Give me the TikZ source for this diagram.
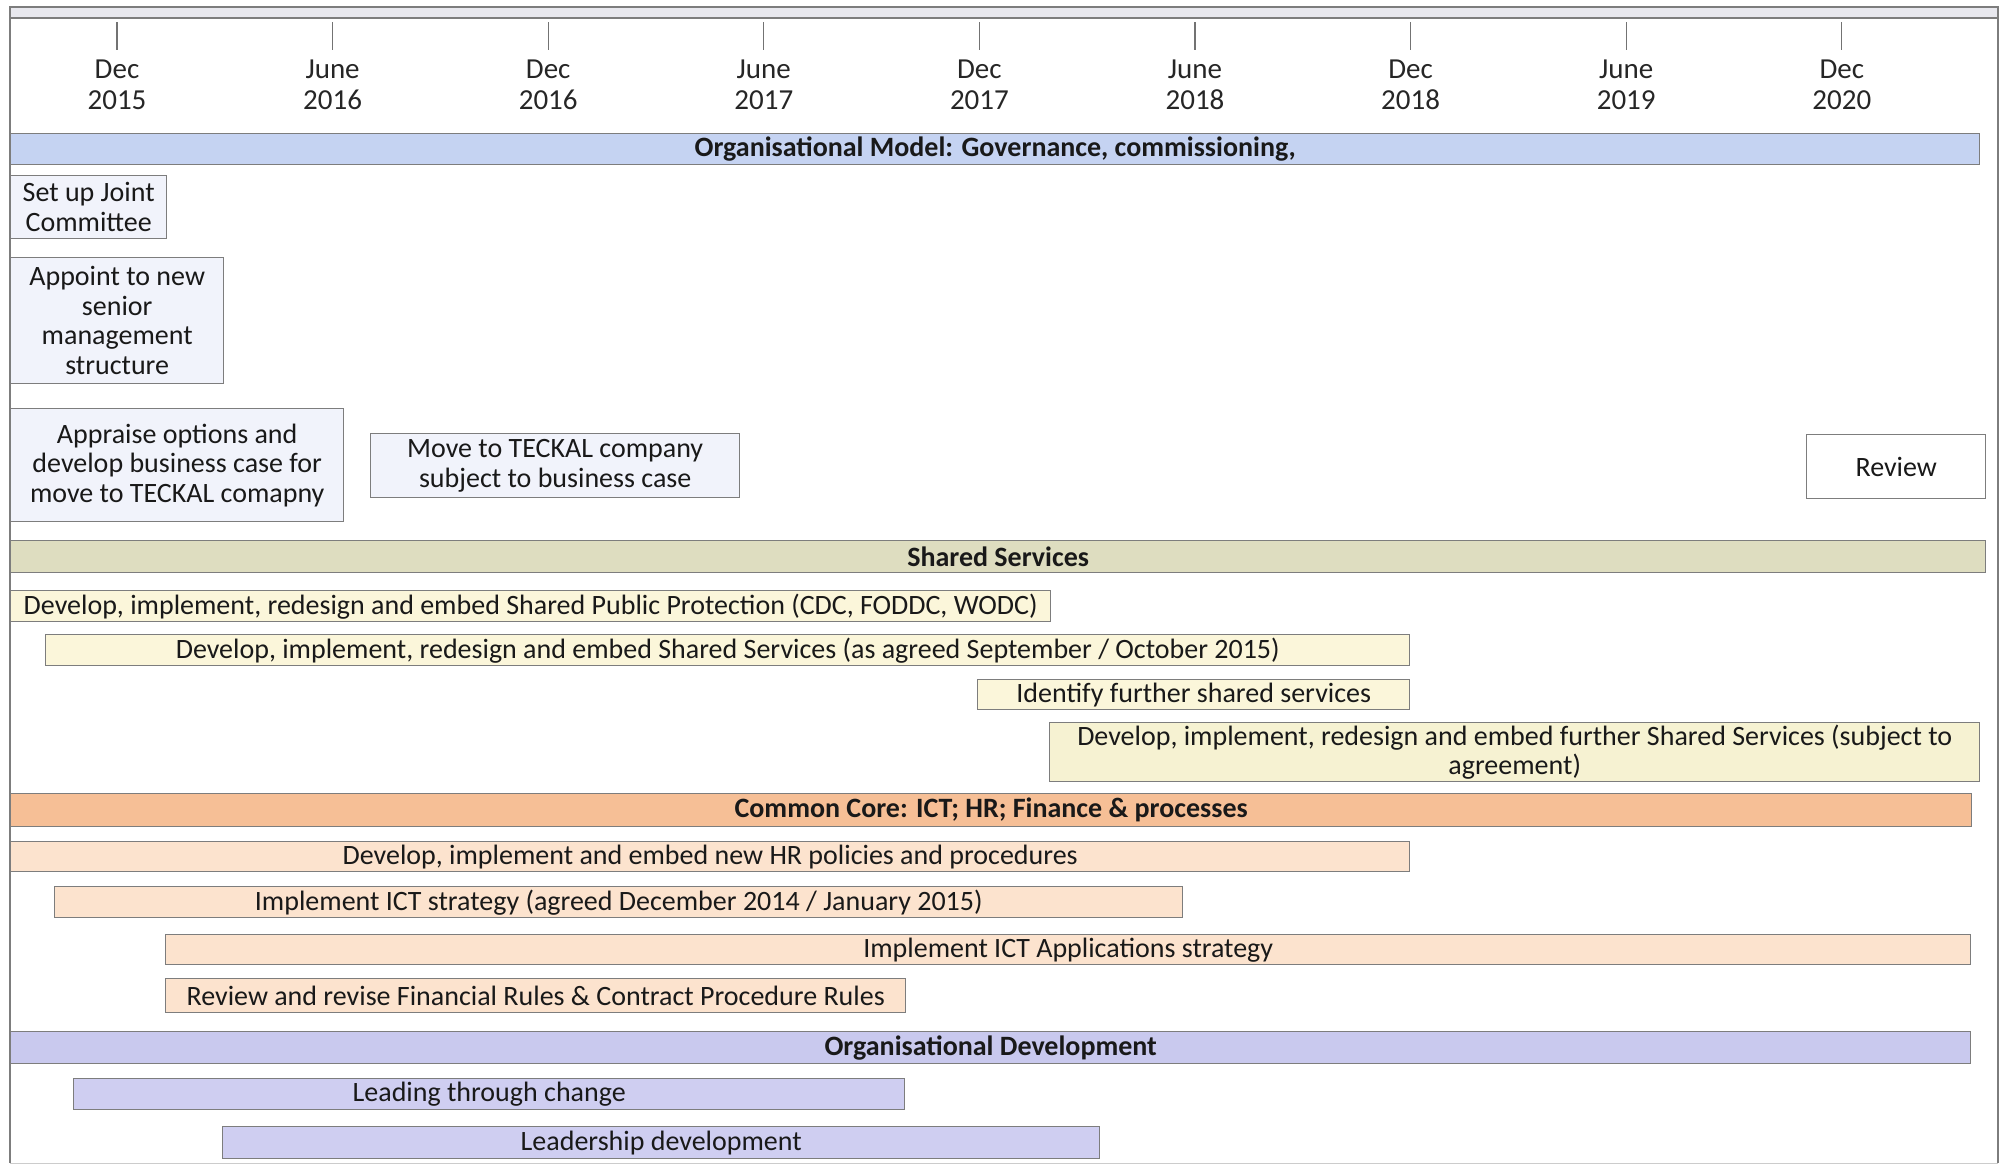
\documentclass[tikz,border=0pt]{standalone}
\usepackage{fontspec}
\setmainfont{Carlito}
\definecolor{edge}{RGB}{125,125,125}
\definecolor{blueBar}{RGB}{197,211,242}
\definecolor{orgBox}{RGB}{241,243,251}
\definecolor{ssBar}{RGB}{222,221,192}
\definecolor{ssRow}{RGB}{251,246,218}
\definecolor{ssRowB}{RGB}{246,242,210}
\definecolor{ccBar}{RGB}{246,191,150}
\definecolor{ccRow}{RGB}{252,227,206}
\definecolor{odBar}{RGB}{201,201,238}
\definecolor{odRow}{RGB}{207,206,241}
\definecolor{stripG}{RGB}{232,232,238}
\tikzset{
  base/.style={draw=edge, line width=1.4pt, inner sep=2pt, anchor=north west,
    font=\fontsize{28}{29.5}\selectfont, align=center, text=black!90},
  bar/.style={base, font=\fontsize{28}{29.5}\selectfont\bfseries},
  datelbl/.style={font=\fontsize{29}{31}\selectfont, align=center, text=black!85},
  tickline/.style={draw=black!55, line width=1.2pt},
}
\begin{document}
\begin{tikzpicture}[x=1pt,y=-1pt]
\useasboundingbox (0,0) rectangle (2008,1165);
% frame
\draw[draw=edge, line width=1.4pt, fill=stripG] (10,7) rectangle (1998,18);
\draw[draw=edge, line width=1.4pt] (10,18) -- (10,1163);
\draw[draw=edge, line width=1.4pt] (1998,18) -- (1998,1163);
\draw[draw=black!20, line width=1pt] (10,1163) -- (1998,1163);
% timeline
\foreach \i/\m/\y [count=\k from 0] in {a/Dec/2015,b/June/2016,c/Dec/2016,d/June/2017,e/Dec/2017,f/June/2018,g/Dec/2018,h/June/2019,j/Dec/2020}{
  \coordinate (t\i) at ({117+215.6*\k},22);
  \coordinate (u\i) at ({117+215.6*\k},50);
  \draw[tickline] (t\i) -- (u\i);
  \node[datelbl] (d\i) at ({117+215.6*\k},85) {\m\\\y};
}
% Organisational model
\node[bar, fill=blueBar, minimum width=1969pt, minimum height=31pt] (om) at (10,133) {Organisational Model: Governance, commissioning,};
\node[base, fill=orgBox, minimum width=156pt, minimum height=63pt] (jc) at (10,175) {Set up Joint\\Committee};
\node[base, fill=orgBox, minimum width=213pt, minimum height=126pt] (ap) at (10,257) {Appoint to new\\senior\\management\\structure};
\node[base, fill=orgBox, minimum width=333pt, minimum height=113pt] (bc) at (10,408) {Appraise options and\\develop business case for\\move to TECKAL comapny};
\node[base, fill=orgBox, minimum width=369pt, minimum height=64pt] (mt) at (370,433) {Move to TECKAL company\\subject to business case};
\node[base, fill=white, minimum width=179pt, minimum height=64pt] (rv) at (1806,434) {Review};
% Shared services
\node[bar, fill=ssBar, minimum width=1975pt, minimum height=32pt] (ss) at (10,540) {Shared Services};
\node[base, fill=ssRow, minimum width=1040pt, minimum height=31pt] (s1) at (10,590) {Develop, implement, redesign and embed Shared Public Protection (CDC, FODDC, WODC)};
\node[base, fill=ssRow, minimum width=1364pt, minimum height=31pt] (s2) at (45,634) {Develop, implement, redesign and embed Shared Services (as agreed September / October 2015)};
\node[base, fill=ssRow, minimum width=432pt, minimum height=30pt] (s3) at (977,679) {Identify further shared services};
\node[base, fill=ssRowB, minimum width=930pt, minimum height=58pt] (s4) at (1049,722) {Develop, implement, redesign and embed further Shared Services (subject to\\agreement)};
% Common core
\node[bar, fill=ccBar, minimum width=1961pt, minimum height=33pt] (cc) at (10,793) {Common Core: ICT; HR; Finance \& processes};
\node[base, fill=ccRow, minimum width=1399pt, minimum height=30pt] (c1) at (10,841) {Develop, implement and embed new HR policies and procedures};
\node[base, fill=ccRow, minimum width=1128pt, minimum height=31pt] (c2) at (54,886) {Implement ICT strategy (agreed December 2014 / January 2015)};
\node[base, fill=ccRow, minimum width=1805pt, minimum height=30pt] (c3) at (165,934) {Implement ICT Applications strategy};
\node[base, fill=ccRow, minimum width=740pt, minimum height=34pt] (c4) at (165,978) {Review and revise Financial Rules \& Contract Procedure Rules};
% Organisational development
\node[bar, fill=odBar, minimum width=1960pt, minimum height=32pt] (od) at (10,1031) {Organisational Development};
\node[base, fill=odRow, minimum width=831pt, minimum height=31pt] (o1) at (73,1078) {Leading through change};
\node[base, fill=odRow, minimum width=877pt, minimum height=32pt] (o2) at (222,1126) {Leadership development};
\end{tikzpicture}
\end{document}
